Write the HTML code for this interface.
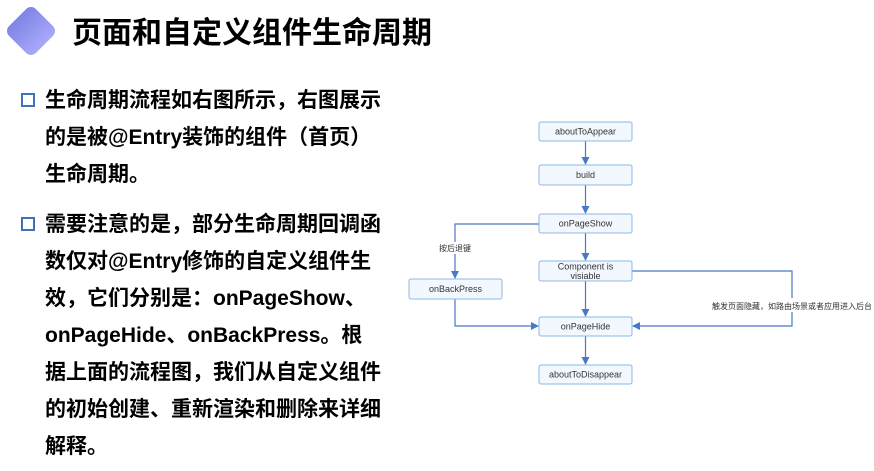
<html><head><style>
body{margin:0;width:874px;height:471px;background:#fff;position:relative;overflow:hidden;font-family:"Liberation Sans","Noto Sans CJK SC",sans-serif}
.t{position:absolute;left:72px;top:12px;font-size:30px;font-weight:bold;color:#000;white-space:nowrap;line-height:44px}
.d{position:absolute;left:12px;top:12px;width:38px;height:38px;border-radius:7px;transform:rotate(45deg);background:linear-gradient(90deg,#7f85e6,#a8a8fa)}
.p{position:absolute;left:45px;font-size:21px;font-weight:bold;line-height:37px;white-space:nowrap;color:#000}
.b{position:absolute;left:21px;width:10px;height:10px;border:2.5px solid #3f72b8}
</style></head><body>
<div class="d"></div>
<div class="t">页面和自定义组件生命周期</div>
<div class="b" style="top:93px"></div>
<div class="p" style="top:82px">生命周期流程如右图所示，右图展示<br>的是被@Entry装饰的组件（首页）<br>生命周期。</div>
<div class="b" style="top:217px"></div>
<div class="p" style="top:206px">需要注意的是，部分生命周期回调函<br>数仅对@Entry修饰的自定义组件生<br>效，它们分别是：onPageShow、<br>onPageHide、onBackPress。根<br>据上面的流程图，我们从自定义组件<br>的初始创建、重新渲染和删除来详细<br>解释。</div>
<svg width="874" height="471" style="position:absolute;left:0;top:0" font-family="Liberation Sans,Noto Sans CJK SC,sans-serif" font-size="9">
<defs><marker id="a" markerWidth="8" markerHeight="8" refX="7" refY="4" orient="auto" markerUnits="userSpaceOnUse"><path d="M0,0L8,4L0,8z" fill="#4a78c8"/></marker></defs>
<g stroke="#4a78c8" stroke-width="1.2" fill="none">
<line x1="585.5" y1="141" x2="585.5" y2="164" marker-end="url(#a)"/>
<line x1="585.5" y1="185" x2="585.5" y2="213" marker-end="url(#a)"/>
<line x1="585.5" y1="233" x2="585.5" y2="260" marker-end="url(#a)"/>
<line x1="585.5" y1="281" x2="585.5" y2="316" marker-end="url(#a)"/>
<line x1="585.5" y1="336" x2="585.5" y2="364" marker-end="url(#a)"/>
<polyline points="539,224 455,224 455,278" marker-end="url(#a)"/>
<polyline points="455,299 455,326 538,326" marker-end="url(#a)"/>
<polyline points="632,271 792,271 792,326 633,326" marker-end="url(#a)"/>
</g>
<rect x="440" y="242" width="34" height="12" fill="#fff"/>
<rect x="712" y="298" width="160" height="14" fill="#fff"/>
<g fill="#f2f8fe" stroke="#8ab8ea" stroke-width="1">
<rect x="539" y="122" width="93" height="19" rx="2"/>
<rect x="539" y="165" width="93" height="20" rx="2"/>
<rect x="539" y="214" width="93" height="19" rx="2"/>
<rect x="539" y="261" width="93" height="20" rx="2"/>
<rect x="409" y="279" width="93" height="20" rx="2"/>
<rect x="539" y="317" width="93" height="19" rx="2"/>
<rect x="539" y="365" width="93" height="19" rx="2"/>
</g>
<g fill="#333" text-anchor="middle">
<text x="585.5" y="134.5">aboutToAppear</text>
<text x="585.5" y="178">build</text>
<text x="585.5" y="226.5">onPageShow</text>
<text x="585.5" y="269.5">Component is</text>
<text x="585.5" y="279">visiable</text>
<text x="455.5" y="292">onBackPress</text>
<text x="585.5" y="329.5">onPageHide</text>
<text x="585.5" y="377.5">aboutToDisappear</text>
<text x="455" y="251" font-size="8">按后退键</text>
<text x="792" y="309" font-size="8">触发页面隐藏，如路由场景或者应用进入后台</text>
</g>
</svg>
</body></html>
